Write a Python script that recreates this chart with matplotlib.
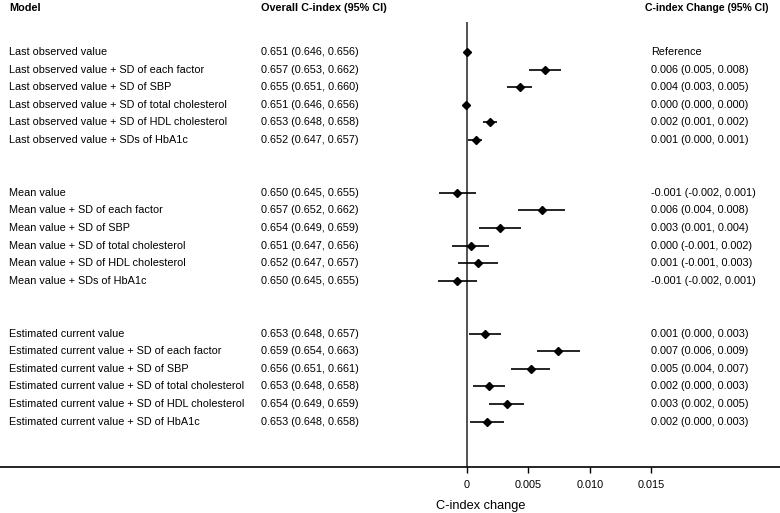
import numpy as np
import matplotlib
matplotlib.use("Agg")
import matplotlib.pyplot as plt

plt.rcParams['font.family'] = ['Liberation Sans', 'DejaVu Sans']

# ---- data ----
models = [
    "Last observed value",
    "Last observed value + SD of each factor",
    "Last observed value + SD of SBP",
    "Last observed value + SD of total cholesterol",
    "Last observed value + SD of HDL cholesterol",
    "Last observed value + SDs of HbA1c",
    "Mean value",
    "Mean value + SD of each factor",
    "Mean value + SD of SBP",
    "Mean value + SD of total cholesterol",
    "Mean value + SD of HDL cholesterol",
    "Mean value + SDs of HbA1c",
    "Estimated current value",
    "Estimated current value + SD of each factor",
    "Estimated current value + SD of SBP",
    "Estimated current value + SD of total cholesterol",
    "Estimated current value + SD of HDL cholesterol",
    "Estimated current value + SD of HbA1c",
]
overall = [
    "0.651 (0.646, 0.656)", "0.657 (0.653, 0.662)", "0.655 (0.651, 0.660)",
    "0.651 (0.646, 0.656)", "0.653 (0.648, 0.658)", "0.652 (0.647, 0.657)",
    "0.650 (0.645, 0.655)", "0.657 (0.652, 0.662)", "0.654 (0.649, 0.659)",
    "0.651 (0.647, 0.656)", "0.652 (0.647, 0.657)", "0.650 (0.645, 0.655)",
    "0.653 (0.648, 0.657)", "0.659 (0.654, 0.663)", "0.656 (0.651, 0.661)",
    "0.653 (0.648, 0.658)", "0.654 (0.649, 0.659)", "0.653 (0.648, 0.658)",
]
change = [
    "Reference", "0.006 (0.005, 0.008)", "0.004 (0.003, 0.005)",
    "0.000 (0.000, 0.000)", "0.002 (0.001, 0.002)", "0.001 (0.000, 0.001)",
    "-0.001 (-0.002, 0.001)", "0.006 (0.004, 0.008)", "0.003 (0.001, 0.004)",
    "0.000 (-0.001, 0.002)", "0.001 (-0.001, 0.003)", "-0.001 (-0.002, 0.001)",
    "0.001 (0.000, 0.003)", "0.007 (0.006, 0.009)", "0.005 (0.004, 0.007)",
    "0.002 (0.000, 0.003)", "0.003 (0.002, 0.005)", "0.002 (0.000, 0.003)",
]
est = [0.0, 0.00634, 0.00431, -0.0001, 0.00187, 0.00073,
       -0.00079, 0.00607, 0.00266, 0.0003, 0.00092, -0.00079,
       0.00149, 0.00743, 0.00518, 0.00176, 0.00322, 0.00163]
lo = [0.0, 0.00504, 0.00328, -0.0001, 0.00133, 0.0001,
      -0.00228, 0.00417, 0.00095, -0.0012, -0.0007, -0.00238,
      0.00019, 0.00572, 0.00358, 0.00049, 0.00179, 0.00024]
hi = [0.0, 0.00764, 0.00531, -0.0001, 0.00241, 0.00124,
      0.00073, 0.00797, 0.00442, 0.00176, 0.00252, 0.00079,
      0.00276, 0.00921, 0.00675, 0.00309, 0.00463, 0.00301]
ticks = [0, 0.005, 0.010, 0.015]
tick_labels = ["0", "0.005", "0.010", "0.015"]

# three groups of six rows with two blank rows in between
rows = np.concatenate([np.arange(0, 6), np.arange(8, 14), np.arange(16, 22)])

W, H = 780, 513
px_per_unit = 12280.0
x_zero = 467.0
axis_y = 467.0
row0, row_h = 52.0, 17.6

fig = plt.figure(figsize=(W / 100, H / 100), dpi=100)
ax = fig.add_axes([0, (H - axis_y) / H, 1, axis_y / H])

ax.set_xlim(-x_zero / px_per_unit, (W - x_zero) / px_per_unit)
ax.set_ylim((axis_y - row0) / row_h, -row0 / row_h)

fs = 7.8
ax.vlines(0, (22 - row0) / row_h, (axis_y - row0) / row_h, color='#333333', lw=1.2)
ax.hlines(rows, lo, hi, color='black', lw=1.2)
ax.plot(est, rows, 'D', color='black', ms=4.2, ls='none')

tr = ax.get_yaxis_transform()
head_y = (8 - row0) / row_h
ax.text(9 / W, head_y, "Model", transform=tr, fontsize=fs, fontweight='bold', va='center')
ax.text(261 / W, head_y, "Overall C-index (95% CI)", transform=tr, fontsize=fs,
        fontweight='bold', va='center')
ax.text(645 / W, head_y, "C-index Change (95% CI)", transform=tr, fontsize=7.6,
        fontweight='bold', va='center')
for r, m, o, c in zip(rows, models, overall, change):
    ax.text(9 / W, r, m, transform=tr, fontsize=fs, va='center')
    ax.text(261 / W, r, o, transform=tr, fontsize=fs, va='center')
    ax.text(651 / W, r, c, transform=tr, fontsize=fs, va='center')

for s in ['top', 'right', 'left']:
    ax.spines[s].set_visible(False)
ax.spines['bottom'].set_linewidth(1.2)
ax.set_yticks([])
ax.set_xticks(ticks)
ax.set_xticklabels(tick_labels, fontsize=fs)
ax.tick_params(axis='x', direction='out', length=4.5, width=1.0, pad=4.5)
ax.set_xlabel("C-index change", fontsize=9.2)
ax.xaxis.set_label_coords(481 / W, -0.07)

fig.savefig("out.png", dpi=100)
